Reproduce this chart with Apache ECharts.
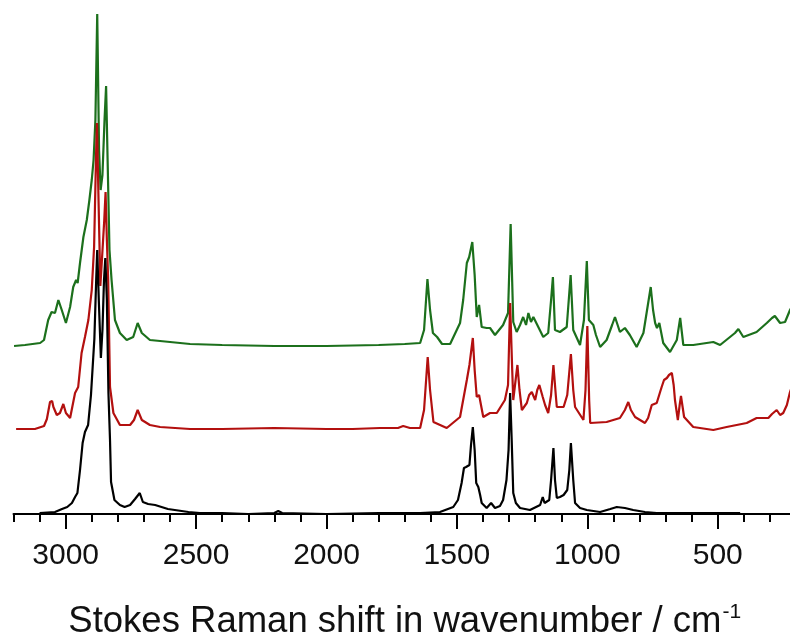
<!DOCTYPE html>
<html>
<head>
<meta charset="utf-8">
<title>Stokes Raman spectra</title>
<script src="https://cdn.jsdelivr.net/npm/echarts@6/dist/echarts.min.js"></script>
<style>
  html, body { margin: 0; padding: 0; background: #fff; }
  #chart { width: 790px; height: 642px; }
</style>
</head>
<body>
<div id="chart"></div>
<script>
// Raman spectra: [wavenumber / cm-1, relative intensity above own baseline]
const blackSpectrum = [
  [3100, 1], [3041, 2], [3014, 5], [2994, 7], [2976, 11], [2964, 17], [2955, 21],
  [2945, 44], [2935, 71], [2926, 82], [2914, 89], [2903, 119], [2890, 175],
  [2883, 234], [2879, 264], [2873, 214], [2865, 156], [2859, 184], [2853, 234],
  [2848, 256], [2842, 214], [2836, 121], [2830, 74], [2826, 32], [2813, 14],
  [2792, 9], [2774, 7], [2753, 9], [2734, 15], [2716, 21], [2704, 12], [2684, 10],
  [2657, 9], [2608, 5], [2529, 2], [2485, 1], [2400, 1], [2300, 0], [2200, 1],
  [2185, 3], [2170, 1], [2000, 0], [1800, 1], [1700, 1], [1641, 1], [1565, 2],
  [1514, 7], [1496, 14], [1482, 31], [1473, 46], [1465, 47], [1452, 49],
  [1446, 69], [1439, 87], [1432, 64], [1426, 31], [1418, 27], [1411, 19],
  [1405, 11], [1386, 6], [1369, 11], [1354, 6], [1335, 8], [1323, 14], [1310, 34],
  [1302, 64], [1296, 121], [1290, 74], [1284, 21], [1274, 11], [1258, 6],
  [1220, 4], [1181, 9], [1171, 17], [1164, 11], [1158, 11], [1146, 14], [1139, 34],
  [1130, 66], [1124, 34], [1117, 16], [1105, 17], [1091, 19], [1077, 24],
  [1069, 44], [1063, 71], [1054, 34], [1047, 11], [1028, 6], [1002, 4], [951, 2],
  [912, 5], [887, 7], [856, 6], [824, 4], [779, 2], [734, 1], [645, 1], [491, 1],
  [414, 1]
];

const redSpectrum = [
  [3190, 0], [3118, 0], [3083, 3], [3072, 10], [3060, 27], [3052, 28], [3047, 22],
  [3034, 14], [3022, 16], [3009, 25], [2999, 16], [2983, 11], [2964, 36],
  [2952, 42], [2939, 76], [2926, 92], [2913, 109], [2900, 139], [2891, 182],
  [2883, 279], [2880, 306], [2874, 229], [2867, 143], [2861, 169], [2852, 209],
  [2847, 237], [2842, 189], [2837, 149], [2830, 42], [2817, 16], [2792, 4],
  [2753, 4], [2738, 9], [2724, 19], [2708, 9], [2677, 4], [2638, 2], [2523, 0],
  [2400, 0], [2200, 1], [2000, 0], [1900, 0], [1795, 1], [1726, 1], [1706, 3],
  [1680, 1], [1641, 1], [1626, 19], [1612, 72], [1603, 39], [1590, 7], [1539, 1],
  [1488, 12], [1462, 49], [1452, 64], [1439, 91], [1432, 59], [1424, 32],
  [1415, 34], [1399, 12], [1373, 16], [1347, 16], [1316, 29], [1304, 44],
  [1296, 126], [1288, 59], [1284, 29], [1275, 49], [1268, 64], [1260, 39],
  [1251, 19], [1232, 26], [1223, 34], [1213, 37], [1200, 29], [1192, 39],
  [1184, 44], [1171, 32], [1162, 24], [1150, 16], [1139, 34], [1130, 64],
  [1121, 34], [1117, 22], [1091, 22], [1077, 34], [1063, 75], [1054, 39],
  [1047, 22], [1015, 9], [1007, 39], [1000, 103], [993, 29], [989, 6], [926, 7],
  [875, 11], [856, 19], [843, 27], [833, 19], [817, 12], [779, 6], [767, 11],
  [753, 24], [734, 26], [721, 37], [715, 42], [706, 49], [695, 51], [687, 54],
  [676, 56], [669, 44], [664, 29], [653, 9], [646, 24], [641, 33], [633, 19],
  [629, 12], [594, 2], [517, -1], [466, 2], [389, 6], [351, 11], [306, 11],
  [292, 15], [274, 19], [261, 14], [249, 16], [235, 24], [223, 37], [200, 54]
];

const greenSpectrum = [
  [3198, 0], [3156, 1], [3098, 3], [3083, 6], [3067, 26], [3054, 34], [3041, 33],
  [3028, 46], [3015, 36], [2999, 23], [2983, 39], [2971, 59], [2960, 66],
  [2954, 63], [2945, 83], [2932, 109], [2919, 126], [2909, 146], [2900, 166],
  [2893, 186], [2886, 226], [2879, 332], [2872, 196], [2866, 156], [2859, 171],
  [2851, 226], [2845, 260], [2840, 196], [2832, 96], [2824, 66], [2811, 26],
  [2792, 13], [2766, 6], [2741, 9], [2724, 23], [2708, 13], [2677, 6], [2638, 5],
  [2523, 2], [2400, 1], [2200, 0], [2000, 0], [1800, 1], [1700, 2], [1641, 3],
  [1626, 16], [1613, 67], [1603, 36], [1592, 13], [1576, 9], [1557, 2], [1526, 2],
  [1488, 23], [1476, 46], [1462, 83], [1453, 89], [1441, 104], [1432, 71],
  [1424, 29], [1415, 41], [1405, 19], [1386, 18], [1373, 18], [1354, 11],
  [1323, 21], [1304, 33], [1294, 122], [1284, 24], [1271, 14], [1258, 21],
  [1246, 29], [1235, 21], [1226, 33], [1216, 24], [1207, 29], [1188, 19],
  [1169, 9], [1150, 13], [1139, 46], [1132, 69], [1124, 16], [1105, 14],
  [1079, 19], [1064, 71], [1054, 16], [1028, 1], [1013, 26], [1002, 85], [994, 26],
  [977, 21], [967, 11], [951, -1], [926, 6], [905, 21], [894, 29], [875, 14],
  [856, 18], [837, 11], [811, -1], [785, 13], [771, 36], [757, 59], [748, 36],
  [740, 23], [733, 18], [724, 23], [709, 3], [683, -6], [657, 6], [644, 28],
  [632, 1], [594, 1], [517, 4], [491, 1], [453, 9], [434, 13], [421, 17],
  [402, 9], [351, 14], [312, 23], [292, 28], [281, 30], [261, 23], [242, 24],
  [223, 36], [200, 46]
];

// vertical offsets used to stack the three traces
const traceOffsets = { black: 0, red: 85, green: 168 };
const traceColors = { black: '#000000', red: '#b3100f', green: '#1c701c' };

const majorTicks = [3000, 2500, 2000, 1500, 1000, 500];
const minorStep = 100;
const axisRange = [200, 3200];

function shifted(spectrum, offset) {
  return spectrum.map(p => [p[0], p[1] + offset]);
}

function trace(name, spectrum) {
  return {
    name: name,
    type: 'line',
    xAxisIndex: 0,
    data: shifted(spectrum, traceOffsets[name]),
    showSymbol: false,
    symbol: 'none',
    smooth: false,
    clip: true,
    lineStyle: { color: traceColors[name], width: 2.2 },
    emphasis: { disabled: true },
    animation: false
  };
}

const chart = echarts.init(document.getElementById('chart'), null, { renderer: 'canvas' });

const fontFamily = '"Liberation Sans", Arial, Helvetica, sans-serif';

chart.setOption({
  backgroundColor: '#ffffff',
  animation: false,
  grid: {
    left: 13.5,
    width: 782.5,
    top: 0,
    bottom: 128,
    containLabel: false,
    outerBoundsMode: 'none'
  },
  xAxis: [
    {
      // minor ticks every 100 cm-1 plus the axis line
      type: 'value',
      position: 'bottom',
      min: axisRange[0],
      max: axisRange[1],
      interval: minorStep,
      inverse: true,
      axisLine: { show: true, lineStyle: { color: '#000', width: 2 } },
      axisTick: { show: true, length: 8, lineStyle: { color: '#000', width: 2 } },
      axisLabel: { show: false },
      splitLine: { show: false }
    },
    {
      // major ticks with labels and the axis title
      type: 'value',
      position: 'bottom',
      min: axisRange[0],
      max: axisRange[1],
      inverse: true,
      axisLine: { show: false },
      axisTick: {
        show: true,
        customValues: majorTicks,
        length: 15,
        lineStyle: { color: '#000', width: 2 }
      },
      axisLabel: {
        show: true,
        customValues: majorTicks,
        formatter: v => String(v),
        margin: 27,
        fontSize: 30,
        fontFamily: fontFamily,
        color: '#111'
      },
      splitLine: { show: false },
      name: 'Stokes Raman shift in wavenumber / cm{sup|-1}',
      nameLocation: 'middle',
      nameGap: 87.7,
      nameTextStyle: {
        fontSize: 36.5,
        lineHeight: 40.6,
        fontFamily: fontFamily,
        color: '#111',
        rich: {
          sup: {
            fontSize: 21,
            lineHeight: 21,
            fontFamily: fontFamily,
            color: '#111',
            verticalAlign: 'top',
            padding: [0, 0, 0, 1]
          }
        }
      }
    }
  ],
  yAxis: {
    type: 'value',
    min: 0,
    max: 514,
    show: false,
    splitLine: { show: false }
  },
  series: [
    trace('green', greenSpectrum),
    trace('red', redSpectrum),
    trace('black', blackSpectrum)
  ]
});
</script>
</body>
</html>
